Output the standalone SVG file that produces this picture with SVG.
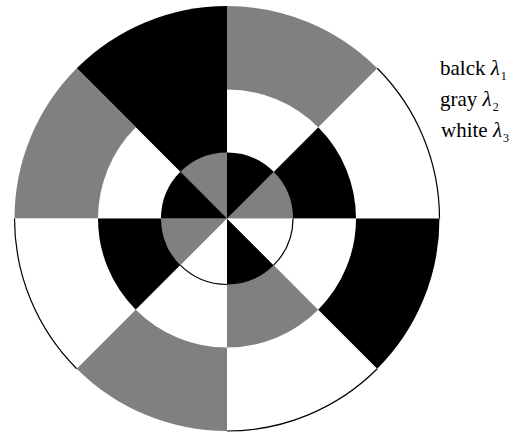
<svg xmlns="http://www.w3.org/2000/svg" xmlns:xlink="http://www.w3.org/1999/xlink" width="527" height="432" viewBox="0 0 527 432">
  <style>
    .b { fill: #000000; }
    .g { fill: #808080; }
    .w { fill: #ffffff; }
    .edge { fill: none; stroke: #000000; stroke-width: 1.2; }
    .lbl { font-family: "Liberation Serif", "Times New Roman", serif; font-size: 21px; fill: #000000; }
    .lam { font-style: italic; }
    .sub { font-size: 12px; }
  </style>
  <defs>
    <path id="w3" d="M0,0 L212.5,0 A212.5,212.5 0 0 0 150.26,-150.26 Z"/>
    <path id="w2" d="M0,0 L129,0 A129,129 0 0 0 91.22,-91.22 Z"/>
    <path id="w1" d="M0,0 L66,0 A66,66 0 0 0 46.67,-46.67 Z"/>
    <path id="a3" d="M212.5,0 A212.5,212.5 0 0 0 150.26,-150.26"/>
    <path id="a1" d="M66,0 A66,66 0 0 0 46.67,-46.67"/>
  </defs>
  <rect width="527" height="432" fill="#ffffff"/>
  <g id="target" transform="translate(227,218.5)">
    <g id="outer-ring">
      <use href="#w3" class="w" transform="rotate(0)"/>
      <use href="#w3" class="g" transform="rotate(-45)"/>
      <use href="#w3" class="b" transform="rotate(-90)"/>
      <use href="#w3" class="g" transform="rotate(-135)"/>
      <use href="#w3" class="w" transform="rotate(-180)"/>
      <use href="#w3" class="g" transform="rotate(-225)"/>
      <use href="#w3" class="w" transform="rotate(-270)"/>
      <use href="#w3" class="b" transform="rotate(-315)"/>
    </g>
    <g id="middle-ring">
      <use href="#w2" class="b" transform="rotate(0)"/>
      <use href="#w2" class="w" transform="rotate(-45)"/>
      <use href="#w2" class="b" transform="rotate(-90)"/>
      <use href="#w2" class="w" transform="rotate(-135)"/>
      <use href="#w2" class="b" transform="rotate(-180)"/>
      <use href="#w2" class="w" transform="rotate(-225)"/>
      <use href="#w2" class="g" transform="rotate(-270)"/>
      <use href="#w2" class="w" transform="rotate(-315)"/>
    </g>
    <g id="inner-disc">
      <use href="#w1" class="g" transform="rotate(0)"/>
      <use href="#w1" class="b" transform="rotate(-45)"/>
      <use href="#w1" class="g" transform="rotate(-90)"/>
      <use href="#w1" class="b" transform="rotate(-135)"/>
      <use href="#w1" class="g" transform="rotate(-180)"/>
      <use href="#w1" class="w" transform="rotate(-225)"/>
      <use href="#w1" class="b" transform="rotate(-270)"/>
      <use href="#w1" class="w" transform="rotate(-315)"/>
    </g>
    <g id="outlines">
      <use href="#a3" class="edge" transform="rotate(0)"/>
      <use href="#a3" class="edge" transform="rotate(-180)"/>
      <use href="#a3" class="edge" transform="rotate(-270)"/>
      <use href="#a1" class="edge" transform="rotate(-225)"/>
      <use href="#a1" class="edge" transform="rotate(-315)"/>
    </g>
  </g>
  <g id="legend">
    <text class="lbl" x="440" y="75">balck <tspan class="lam">λ</tspan><tspan class="sub" dx="1" dy="5">1</tspan></text>
    <text class="lbl" x="440" y="106">gray <tspan class="lam">λ</tspan><tspan class="sub" dx="1" dy="5">2</tspan></text>
    <text class="lbl" x="441" y="137">white <tspan class="lam">λ</tspan><tspan class="sub" dx="1" dy="5">3</tspan></text>
  </g>
</svg>
